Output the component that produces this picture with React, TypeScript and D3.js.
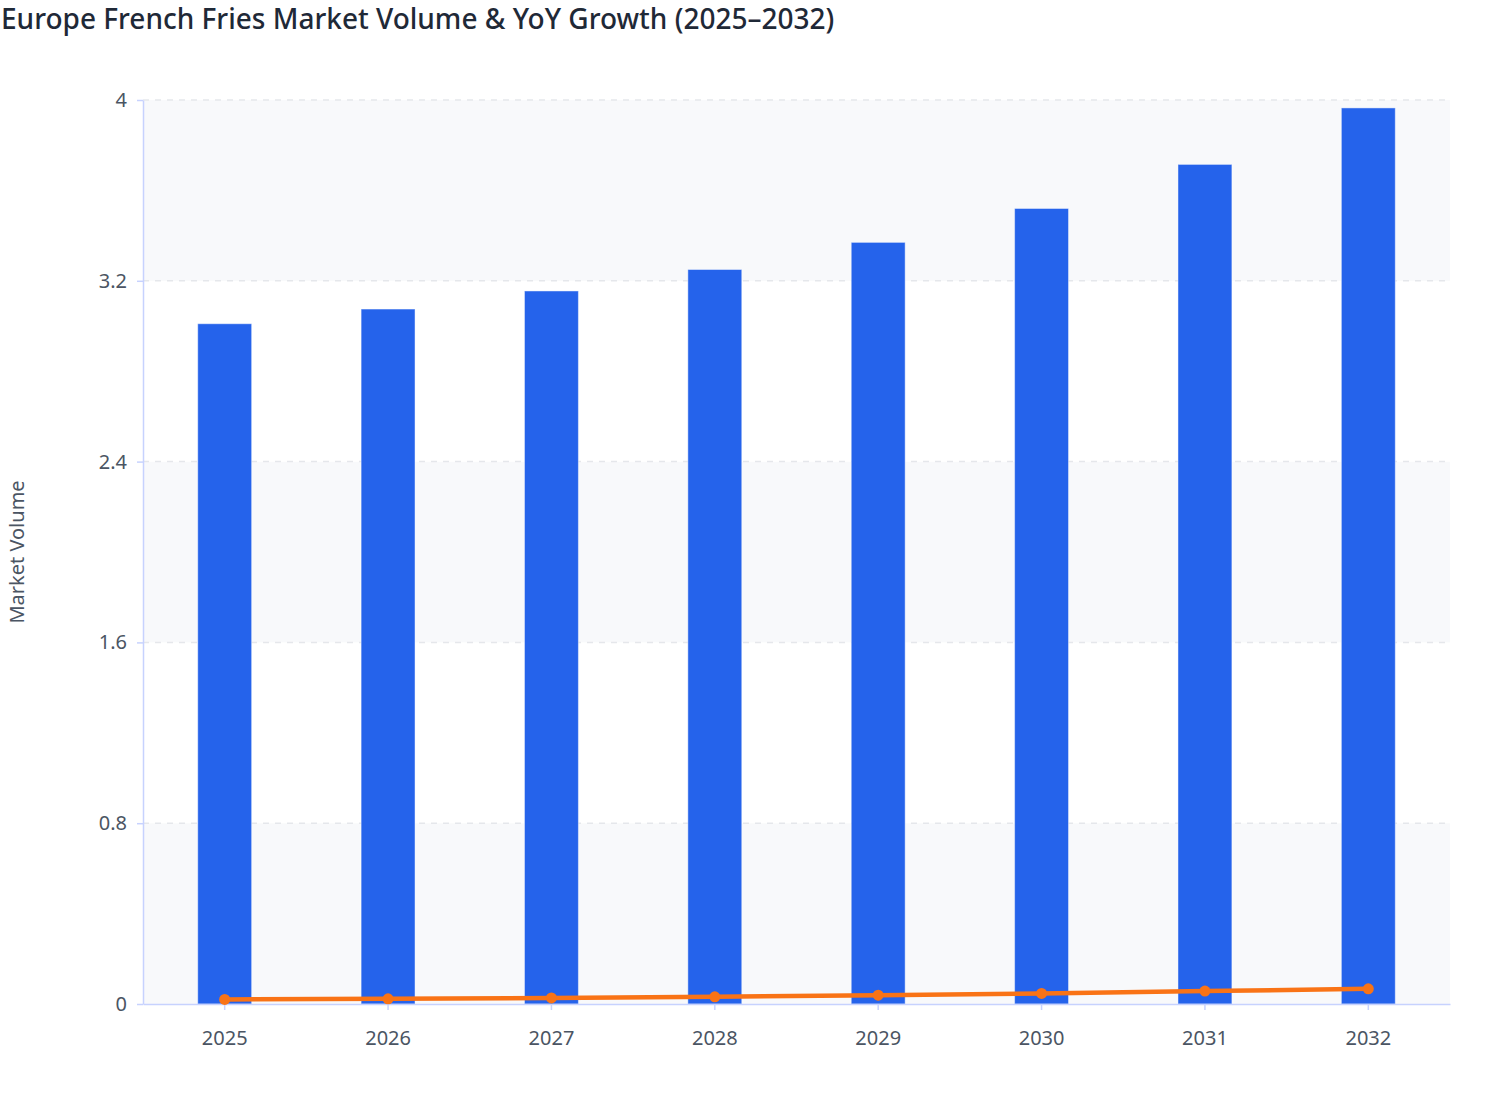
import React, { useEffect, useRef } from 'react';
import * as d3 from 'd3';

const years = ['2025', '2026', '2027', '2028', '2029', '2030', '2031', '2032'];
const marketVolume = [3.01, 3.075, 3.155, 3.25, 3.37, 3.52, 3.715, 3.965];
const yoyGrowth = [0.02, 0.023, 0.027, 0.032, 0.039, 0.047, 0.057, 0.067];
const yTicks = [0, 0.8, 1.6, 2.4, 3.2, 4];

const App: React.FC = () => {
  const svgRef = useRef<SVGSVGElement | null>(null);

  useEffect(() => {
    const width = 1508;
    const height = 1120;
    const margin = { top: 100, right: 58, bottom: 116, left: 143 };
    const font = '"Noto Sans", "Open Sans", sans-serif';

    const svg = d3.select(svgRef.current)
      .attr('width', width)
      .attr('height', height);

    svg.selectAll('*').remove();

    const xScale = d3.scaleBand<string>()
      .domain(years)
      .range([margin.left, width - margin.right]);

    const yScale = d3.scaleLinear()
      .domain([0, 4])
      .range([height - margin.bottom, margin.top]);

    const barWidth = xScale.bandwidth() * 0.33;
    const cx = (i: number) => (xScale(years[i]) as number) + xScale.bandwidth() / 2;

    // Alternating split areas
    const bands = d3.pairs(yTicks);
    svg.append('g')
      .selectAll('rect')
      .data(bands)
      .join('rect')
      .attr('x', margin.left)
      .attr('width', width - margin.right - margin.left)
      .attr('y', d => yScale(d[1]))
      .attr('height', d => yScale(d[0]) - yScale(d[1]))
      .attr('fill', (_, i) => (i % 2 === 0 ? '#f8f9fb' : '#ffffff'));

    // Dashed grid lines
    svg.append('g')
      .selectAll('line')
      .data(yTicks.slice(1))
      .join('line')
      .attr('x1', margin.left)
      .attr('x2', width - margin.right)
      .attr('y1', d => yScale(d))
      .attr('y2', d => yScale(d))
      .attr('stroke', '#e5e7eb')
      .attr('stroke-width', 1.5)
      .attr('stroke-dasharray', '6,6');

    // Bars
    svg.append('g')
      .selectAll('rect')
      .data(marketVolume)
      .join('rect')
      .attr('x', (_, i) => cx(i) - barWidth / 2)
      .attr('width', barWidth)
      .attr('y', d => yScale(d))
      .attr('height', d => yScale(0) - yScale(d))
      .attr('fill', '#2563eb')
      .attr('stroke', 'rgba(255,255,255,0.45)')
      .attr('stroke-width', 1);

    // Axes
    const axisColor = '#c7d2fe';
    const labelColor = '#4b5563';

    const xAxis = svg.append('g')
      .attr('transform', `translate(0,${yScale(0)})`)
      .call(d3.axisBottom(xScale).tickSize(6).tickSizeOuter(0).tickPadding(21));
    xAxis.select('.domain').attr('stroke', axisColor).attr('stroke-width', 1.5);
    xAxis.selectAll('.tick line').attr('stroke', axisColor).attr('stroke-width', 1.5);
    xAxis.selectAll('.tick text')
      .attr('fill', labelColor)
      .style('font-family', font)
      .style('font-size', '20px');

    const yAxis = svg.append('g')
      .attr('transform', `translate(${margin.left},0)`)
      .call(d3.axisLeft(yScale).tickValues(yTicks).tickFormat(d3.format('~g')).tickSize(6).tickSizeOuter(0).tickPadding(10));
    yAxis.select('.domain').attr('stroke', axisColor).attr('stroke-width', 1.5);
    yAxis.selectAll('.tick line').attr('stroke', axisColor).attr('stroke-width', 1.5);
    yAxis.selectAll('.tick text')
      .attr('fill', labelColor)
      .style('font-family', font)
      .style('font-size', '20px');

    // YoY growth line
    const line = d3.line<number>()
      .x((_, i) => cx(i))
      .y(d => yScale(d));

    svg.append('path')
      .datum(yoyGrowth)
      .attr('fill', 'none')
      .attr('stroke', '#f97316')
      .attr('stroke-width', 4.5)
      .attr('d', line);

    svg.append('g')
      .selectAll('circle')
      .data(yoyGrowth)
      .join('circle')
      .attr('cx', (_, i) => cx(i))
      .attr('cy', d => yScale(d))
      .attr('r', 5.5)
      .attr('fill', '#f97316');

    // Y axis title
    svg.append('text')
      .attr('transform', `translate(24,${(yScale(0) + yScale(4)) / 2}) rotate(-90)`)
      .attr('text-anchor', 'middle')
      .attr('fill', labelColor)
      .style('font-family', font)
      .style('font-size', '20px')
      .text('Market Volume');

    // Title
    svg.append('text')
      .attr('x', 1)
      .attr('y', 29)
      .attr('fill', '#1f2937')
      .style('font-family', font)
      .style('font-size', '28px')
      .style('font-weight', 500)
      .text('Europe French Fries Market Volume & YoY Growth (2025–2032)');
  }, []);

  return (
    <div style={{ position: 'absolute', left: 0, top: 0 }}>
      <svg ref={svgRef} style={{ display: 'block' }}></svg>
    </div>
  );
};

export default App;
